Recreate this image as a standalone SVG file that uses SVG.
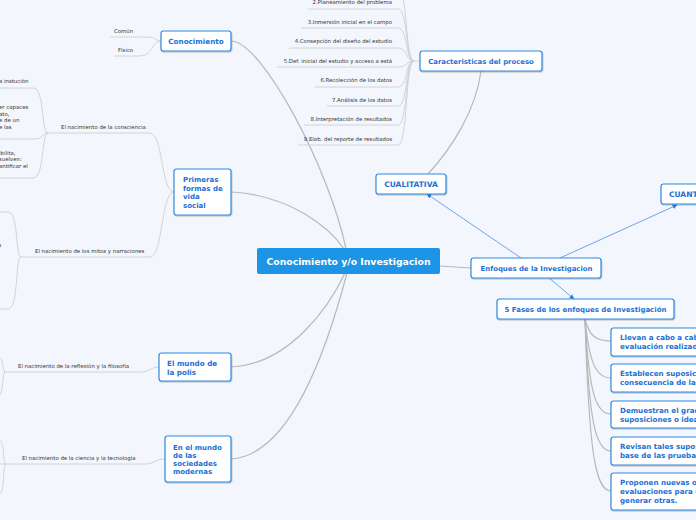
<svg xmlns="http://www.w3.org/2000/svg" width="696" height="520" viewBox="0 0 696 520">
<style>
.bg{fill:#f3f6fd}
.node{fill:#ffffff;stroke:#2f8ae3;stroke-width:1.2;filter:url(#sh)}
.nt{font-family:"DejaVu Sans",Verdana,sans-serif;font-weight:bold;fill:#1b6fd6}
.ct{font-family:"DejaVu Sans",Verdana,sans-serif;font-weight:bold;fill:#ffffff;font-size:9.3px}
.lt{font-family:"DejaVu Sans",Verdana,sans-serif;fill:#333333;font-size:5.4px}
.main{fill:none;stroke:#b8b8b8;stroke-width:1.2}
.leaf{fill:none;stroke:#cfcfcf;stroke-width:0.9}
.arr{fill:none;stroke:#4a90e2;stroke-width:0.8;marker-end:url(#ah)}
</style>
<defs>
<filter id="sh" x="-10%" y="-10%" width="130%" height="140%">
<feDropShadow dx="0.6" dy="1" stdDeviation="0.7" flood-color="#000" flood-opacity="0.25"/>
</filter>
<marker id="ah" viewBox="0 0 10 10" refX="9" refY="5" markerWidth="5" markerHeight="5" markerUnits="userSpaceOnUse" orient="auto">
<path d="M0,0 L10,5 L0,10 z" fill="#2f7fdc"/>
</marker>
</defs>
<rect class="bg" x="0" y="0" width="696" height="520"/>

<g id="connectors">
<path class="main" d="M231,41 C262,41 330,170 346,249"/>
<path class="main" d="M231,192 C290,195 330,228 344,249"/>
<path class="main" d="M230,367 C290,365 330,305 345,273"/>
<path class="main" d="M231,459 C295,455 332,330 347,273"/>
<path class="main" d="M440,266 L471,268"/>
<path class="main" d="M428,174 C452,148 476,110 481,71"/>
<path class="leaf" d="M110,37 H148 C155,37 155,41 161,41"/>
<path class="leaf" d="M114,56 H140 C152,56 152,41 161,41"/>
<path class="leaf" d="M47,133 H150 C163,133 161,192 174,192"/>
<path class="leaf" d="M48,133 C41,133 45,88 33,88 H0"/>
<path class="leaf" d="M48,133 C41,133 45,139 33,139 H0"/>
<path class="leaf" d="M48,133 C41,133 45,178 33,178 H0"/>
<path class="leaf" d="M20,257 H150 C163,257 161,192 174,192"/>
<path class="leaf" d="M21,257 C15,257 19,212 8,212 H0"/>
<path class="leaf" d="M21,257 C15,257 19,309 8,309 H0"/>
<path class="leaf" d="M4,372 H140 C150,372 150,367 159,367"/>
<path class="leaf" d="M5,372 C2,372 4,357 -2,357"/>
<path class="leaf" d="M5,372 C2,372 4,396 -2,396"/>
<path class="leaf" d="M0,464 H145 C155,464 155,459 165,459"/>
<path class="leaf" d="M6,464 C2,464 6,440 -2,440"/>
<path class="leaf" d="M6,464 C2,464 6,495 -2,495"/>
<path class="leaf" d="M398,-11 C408,-11 405,61 414,61 H420"/>
<path class="leaf" d="M308,9 H398 C408,9 405,61 414,61"/>
<path class="leaf" d="M301,28 H398 C408,28 405,61 414,61"/>
<path class="leaf" d="M289,48 H398 C408,48 405,61 414,61"/>
<path class="leaf" d="M277,67 H398 C408,67 405,61 414,61"/>
<path class="leaf" d="M315,87 H398 C408,87 405,61 414,61"/>
<path class="leaf" d="M327,106 H398 C408,106 405,61 414,61"/>
<path class="leaf" d="M304,125 H398 C408,125 405,61 414,61"/>
<path class="leaf" d="M298,145 H398 C408,145 405,61 414,61"/>
<path class="main" d="M585,319 C589,335 595,341 611,341"/>
<path class="main" d="M585,319 C589,360 595,378 611,378"/>
<path class="main" d="M585,319 C589,390 595,414 611,414"/>
<path class="main" d="M585,319 C589,420 595,451 611,451"/>
<path class="main" d="M585,319 C589,450 595,491 611,491"/>
<path class="arr" d="M521,258 L427,194"/>
<path class="arr" d="M560,258 L677,205"/>
<path class="arr" d="M548,277 L574,299"/>
</g>

<g id="central">
<rect x="257" y="248" width="183" height="26" rx="2" fill="#1c95e6"/>
<text class="ct" x="348.5" y="264.5" text-anchor="middle">Conocimiento y/o Investigacion</text>
</g>

<g id="conocimiento">
<rect class="node" x="161" y="31" width="70" height="20" rx="2.5"/>
<text class="nt" x="196" y="43.5" font-size="7.2" text-anchor="middle">Conocimiento</text>
<text class="lt" x="114" y="33">Común</text>
<text class="lt" x="118" y="52">Físico</text>
</g>

<g id="primeras">
<rect class="node" x="174" y="169" width="57" height="46" rx="2.5"/>
<text class="nt" font-size="7" x="183" y="181.5">Primeras</text>
<text class="nt" font-size="7" x="183" y="190.5">formas de</text>
<text class="nt" font-size="7" x="183" y="199">vida</text>
<text class="nt" font-size="7" x="183" y="207.5">social</text>
<text class="lt" x="61" y="129">El nacimiento de la consciencia</text>
<text class="lt" x="-1" y="83">a instución</text>
<text class="lt" x="-1" y="109">er capaces</text>
<text class="lt" x="-1" y="116">ato,</text>
<text class="lt" x="-1" y="122">e de un</text>
<text class="lt" x="-1" y="129">e las</text>
<text class="lt" x="-1" y="155">ibilita,</text>
<text class="lt" x="-1" y="161">suelven:</text>
<text class="lt" x="-1" y="168">antificar el</text>
<text class="lt" x="35" y="253">El nacimiento de los mitos y narraciones</text>
<text class="lt" x="-2" y="247">a</text>
</g>

<g id="polis">
<rect class="node" x="159" y="353" width="72" height="28" rx="2.5"/>
<text class="nt" font-size="7.2" x="167" y="366">El mundo de</text>
<text class="nt" font-size="7.2" x="167" y="375">la polis</text>
<text class="lt" x="18" y="368">El nacimiento de la reflexión y la filosofía</text>
</g>

<g id="sociedades">
<rect class="node" x="165" y="436" width="66" height="46" rx="2.5"/>
<text class="nt" font-size="7" x="173" y="449.5">En el mundo</text>
<text class="nt" font-size="7" x="173" y="457.5">de las</text>
<text class="nt" font-size="7" x="173" y="466">sociedades</text>
<text class="nt" font-size="7" x="173" y="474">modernas</text>
<text class="lt" x="22" y="460">El nacimiento de la ciencia y la tecnología</text>
</g>

<g id="caracteristicas">
<rect class="node" x="420" y="51" width="122" height="20" rx="2.5"/>
<text class="nt" font-size="6.9" x="481" y="63.5" text-anchor="middle">Caracteristicas del proceso</text>
<text class="lt" x="392" y="4" text-anchor="end">2.Planeamiento del problema</text>
<text class="lt" x="392" y="24" text-anchor="end">3.Inmersión inicial en el campo</text>
<text class="lt" x="392" y="43" text-anchor="end">4.Consepción del diseño del estudio</text>
<text class="lt" x="392" y="63" text-anchor="end">5.Def. inicial del estudio y acceso a está</text>
<text class="lt" x="392" y="82" text-anchor="end">6.Recolección de los datos</text>
<text class="lt" x="392" y="102" text-anchor="end">7.Análisis de los datos</text>
<text class="lt" x="392" y="121" text-anchor="end">8.Interpretación de resultados</text>
<text class="lt" x="392" y="141" text-anchor="end">9.Elab.  del reporte de resultados</text>
</g>

<g id="cualitativa">
<rect class="node" x="376" y="174" width="70" height="20" rx="2.5"/>
<text class="nt" font-size="7.5" x="411" y="186.8" text-anchor="middle">CUALITATIVA</text>
</g>

<g id="cuantitativa">
<rect class="node" x="661" y="184" width="60" height="20" rx="2.5"/>
<text class="nt" font-size="7.5" x="669" y="197">CUANTITATIVA</text>
</g>

<g id="enfoques">
<rect class="node" x="471" y="258" width="130" height="20" rx="2.5"/>
<text class="nt" font-size="6.9" x="536.5" y="270.5" text-anchor="middle">Enfoques de la Investigacion</text>
</g>

<g id="fases">
<rect class="node" x="497" y="299" width="177" height="20" rx="2.5"/>
<text class="nt" font-size="7" x="585.5" y="311.5" text-anchor="middle">5 Fases de los enfoques de Investigación</text>
</g>

<g id="fase1">
<rect class="node" x="611" y="328" width="100" height="28" rx="2.5"/>
<text class="nt" font-size="7.1" x="620" y="339.5">Llevan a cabo a cabo la</text>
<text class="nt" font-size="7.1" x="620" y="348.5">evaluación realizada</text>
</g>
<g id="fase2">
<rect class="node" x="611" y="364" width="100" height="28" rx="2.5"/>
<text class="nt" font-size="7.1" x="620" y="376">Establecen suposiciones</text>
<text class="nt" font-size="7.1" x="620" y="385">consecuencia de la</text>
</g>
<g id="fase3">
<rect class="node" x="611" y="401" width="100" height="27" rx="2.5"/>
<text class="nt" font-size="7.1" x="620" y="412.5">Demuestran el grado</text>
<text class="nt" font-size="7.1" x="620" y="421.5">suposiciones o ideas</text>
</g>
<g id="fase4">
<rect class="node" x="611" y="437" width="100" height="28" rx="2.5"/>
<text class="nt" font-size="7.1" x="620" y="448.5">Revisan tales suposiciones</text>
<text class="nt" font-size="7.1" x="620" y="457.5">base de las pruebas</text>
</g>
<g id="fase5">
<rect class="node" x="611" y="473" width="100" height="37" rx="2.5"/>
<text class="nt" font-size="7.1" x="620" y="485">Proponen nuevas observaciones</text>
<text class="nt" font-size="7.1" x="620" y="494">evaluaciones para esclarecer</text>
<text class="nt" font-size="7.1" x="620" y="503">generar otras.</text>
</g>
</svg>
